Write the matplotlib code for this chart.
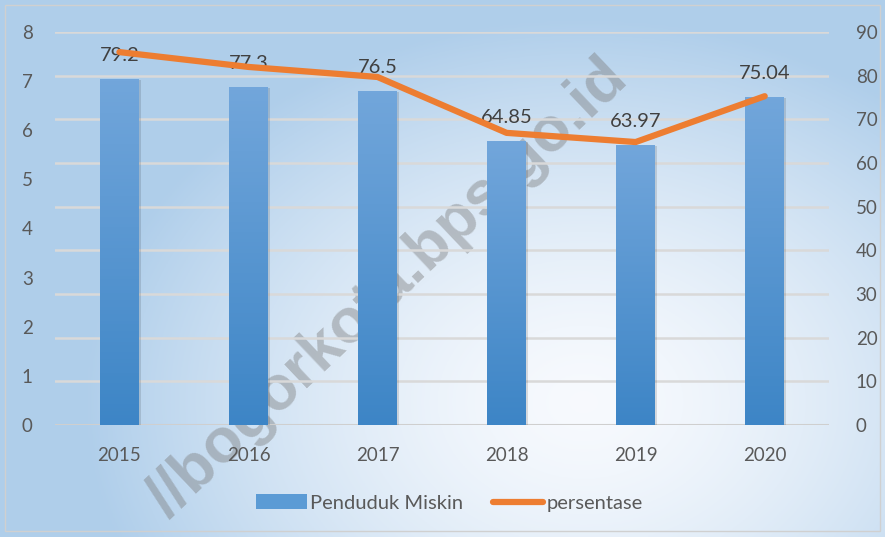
import matplotlib

matplotlib.use("Agg")

import matplotlib.pyplot as plt
import numpy as np
from matplotlib.lines import Line2D
from matplotlib.patches import Patch, Rectangle

years = ["2015", "2016", "2017", "2018", "2019", "2020"]
penduduk_miskin = [7.05, 6.88, 6.80, 5.78, 5.70, 6.68]  # left axis
persentase = [85.4, 82.0, 79.7, 66.9, 64.8, 75.3]  # right axis
label_texts = ["79.2", "77.3", "76.5", "64.85", "63.97", "75.04"]
left_ticks = [0, 1, 2, 3, 4, 5, 6, 7, 8]
right_ticks = [0, 10, 20, 30, 40, 50, 60, 70, 80, 90]

plt.rcParams["font.family"] = ["Lato", "DejaVu Sans"]
text_col = "#595959"
bar_top = np.array([0x72, 0xa6, 0xdb]) / 255
bar_bot = np.array([0x3d, 0x85, 0xc6]) / 255
orange = "#ed7d31"

fig = plt.figure(figsize=(8.85, 5.37), dpi=100)

# background: soft radial gradient, pale in the lower middle, blue at the edges
bg = fig.add_axes([0, 0, 1, 1], zorder=-10)
gx, gy = np.meshgrid(np.linspace(0, 1, 400), np.linspace(0, 1, 250))
d = np.sqrt(((gx - 0.66) / 0.75) ** 2 + ((gy - 0.25) / 0.95) ** 2)
t = np.clip(d / 0.75, 0, 1) ** 1.5
pale = np.array([0.97, 0.98, 0.995])
blue = np.array([0.69, 0.81, 0.92])
img = pale[None, None, :] * (1 - t[..., None]) + blue[None, None, :] * t[..., None]
bg.imshow(img, origin="lower", extent=[0, 1, 0, 1], aspect="auto")
bg.add_patch(Rectangle((0.006, 0.012), 0.988, 0.978, fill=False,
                       edgecolor="#d0d0d0", lw=1.0, transform=bg.transAxes))
bg.set_axis_off()

# site watermark, sitting behind the chart marks
fig.text(0.438, 0.462, "//bogorkota.bps.go.id", rotation=43.5, ha="center",
         va="center", fontsize=45, fontweight="bold", color="#7a7a7a",
         alpha=0.42, rotation_mode="anchor", zorder=-5,
         family=["Liberation Sans", "DejaVu Sans"])

ax = fig.add_axes([0.062, 0.2086, 0.875, 0.7318])
ax.set_facecolor("none")
ax2 = ax.twinx()
ax2.set_facecolor("none")

x = np.arange(len(years))

# gridlines belong to the secondary axis
for v in right_ticks[1:]:
    ax.axhline(v * 8 / 90, color="#d9d9d9", lw=1.8, zorder=0)
ax.axhline(0, color="#cfcfcf", lw=2.2, zorder=0)

# gradient bars with a faint shadow
grad = np.linspace(0, 1, 100)[:, None, None]
bar_img = bar_bot * (1 - grad) + bar_top * grad
bars = ax.bar(x, penduduk_miskin, width=0.3, color="none", zorder=2)
for b in bars:
    x0, w, h = b.get_x(), b.get_width(), b.get_height()
    ax.add_patch(Rectangle((x0 + 0.015, 0), w, h - 0.02, color="#000000",
                           alpha=0.12, zorder=1, lw=0))
    im = ax.imshow(bar_img, origin="lower", extent=[x0, x0 + w, 0, h],
                   aspect="auto", zorder=2)
    im.set_clip_path(b)
ax.set_xlim(-0.5, len(years) - 0.5)
ax.set_ylim(0, 8)
ax2.set_ylim(0, 90)

for xi, h, s in zip(x, penduduk_miskin, label_texts):
    ax.annotate(s, (xi, h), xytext=(0, 17), textcoords="offset points",
                ha="center", va="center", fontsize=14.5, color="#404040", zorder=5)

ax2.plot(x, persentase, color=orange, lw=4.5, solid_capstyle="round",
         solid_joinstyle="round", zorder=4)

ax.set_xticks(x, years)
ax.set_yticks(left_ticks)
ax2.set_yticks(right_ticks)
ax.tick_params(axis="x", length=0, pad=16, labelsize=13.5, labelcolor=text_col)
ax.tick_params(axis="y", length=0, pad=16, labelsize=13.5, labelcolor=text_col)
ax2.tick_params(axis="y", length=0, pad=19, labelsize=13.5, labelcolor=text_col)
for a in (ax, ax2):
    for sp in a.spines.values():
        sp.set_visible(False)

handles = [
    Patch(facecolor="#5b9bd5", edgecolor="none", label="Penduduk Miskin"),
    Line2D([], [], color=orange, lw=4.5, solid_capstyle="round", label="persentase"),
]
fig.legend(handles=handles, loc="center", bbox_to_anchor=(0.508, 0.063), ncol=2,
           frameon=False, fontsize=14.5, labelcolor=text_col, handlelength=2.5,
           handleheight=0.75, handletextpad=0.15, columnspacing=1.5)

fig.savefig("out.png", dpi=100)
